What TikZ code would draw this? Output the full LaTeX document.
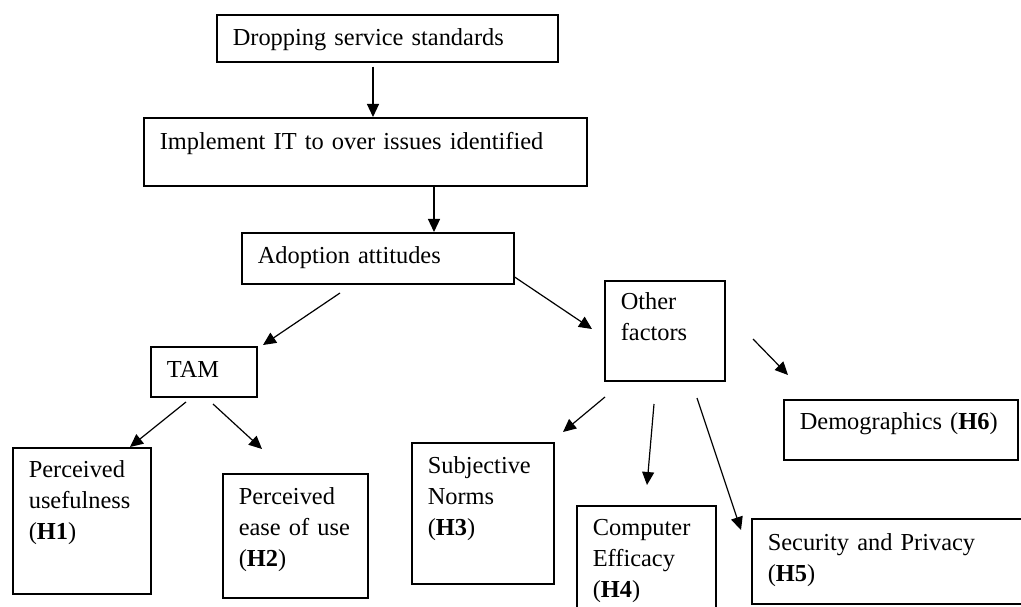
\documentclass[tikz,border=0pt]{standalone}
\usepackage{fontspec}
\setmainfont{Liberation Serif}
\usetikzlibrary{arrows.meta}

\tikzset{
  box/.style={draw, line width=1.6pt, anchor=north west, align=left,
    inner xsep=16pt, inner ysep=0pt, font=\fontsize{24.4}{31}\selectfont},
  arr/.style={-{Triangle[length=13pt,width=12pt]}, line width=1.2pt}
}

\begin{document}
\begin{tikzpicture}[x=1pt, y=-1pt]
        \useasboundingbox (0,0) rectangle (1021,607);
        \clip (0,0) rectangle (1021,607);

        % top chain
        \node[box, text width=309pt, text height=31pt, text depth=16pt] (drop) at (216,14) {Dropping service standards};
        \node[box, text width=411pt, text height=32pt, text depth=36pt] (impl) at (143,117) {Implement IT to over issues identified};
        \node[box, text width=240pt, text height=31pt, text depth=20pt] (adopt) at (241,232) {Adoption attitudes};

        % second level
        \node[box, text width=74pt, text height=31pt, text depth=19pt] (tam) at (150,346) {TAM};
        \node[box, text width=88pt, text height=29pt, text depth=71pt] (other) at (604,280) {Other\\factors};

        % hypotheses
        \node[box, text width=106pt, text height=30pt, text depth=116pt] (pu) at (12,447) {Perceived\\usefulness\\(\textbf{H1})};
        \node[box, text width=113pt, text height=31pt, text depth=93pt] (pe) at (222,473) {Perceived\\ease of use\\(\textbf{H2})};
        \node[box, text width=110pt, text height=31pt, text depth=110pt] (sn) at (411,442) {Subjective\\Norms\\(\textbf{H3})};
        \node[box, text width=107pt, text height=30pt, text depth=105pt] (ce) at (576,505) {Computer\\Efficacy\\(\textbf{H4})};
        \node[box, text width=277pt, text height=32pt, text depth=53pt] (sp) at (751,518) {Security and Privacy\\(\textbf{H5})};
        \node[box, text width=202pt, text height=30pt, text depth=30pt] (demo) at (783,399) {Demographics~(\textbf{H6})};

        % loose arrow ends
        \coordinate (adopt-out) at (340,293);
        \coordinate (tam-in) at (263,345);
        \coordinate (other-in) at (592,329);
        \coordinate (tam-l) at (186,402);
        \coordinate (tam-r) at (213,404);
        \coordinate (pe-in) at (262,449);
        \coordinate (other-a) at (605,397);
        \coordinate (sn-in) at (563,432);
        \coordinate (other-b) at (654,404);
        \coordinate (ce-in) at (647,485);
        \coordinate (other-c) at (697,398);
        \coordinate (sp-in) at (741,530);
        \coordinate (other-d) at (753,339);
        \coordinate (demo-in) at (788,375);

        \draw[arr, shorten <=4pt] (drop.south -| 373,0) -- (impl.north -| 373,0);
        \draw[arr] (impl.south -| 434,0) -- (adopt.north -| 434,0);
        \draw[arr] (adopt-out) -- (tam-in);
        \draw[arr] (adopt.east |- 0,277) -- (other-in);
        \draw[arr] (tam-l) -- (pu.north -| 130,0);
        \draw[arr] (tam-r) -- (pe-in);
        \draw[arr] (other-a) -- (sn-in);
        \draw[arr] (other-b) -- (ce-in);
        \draw[arr] (other-c) -- (sp-in);
        \draw[arr] (other-d) -- (demo-in);
\end{tikzpicture}
\end{document}
